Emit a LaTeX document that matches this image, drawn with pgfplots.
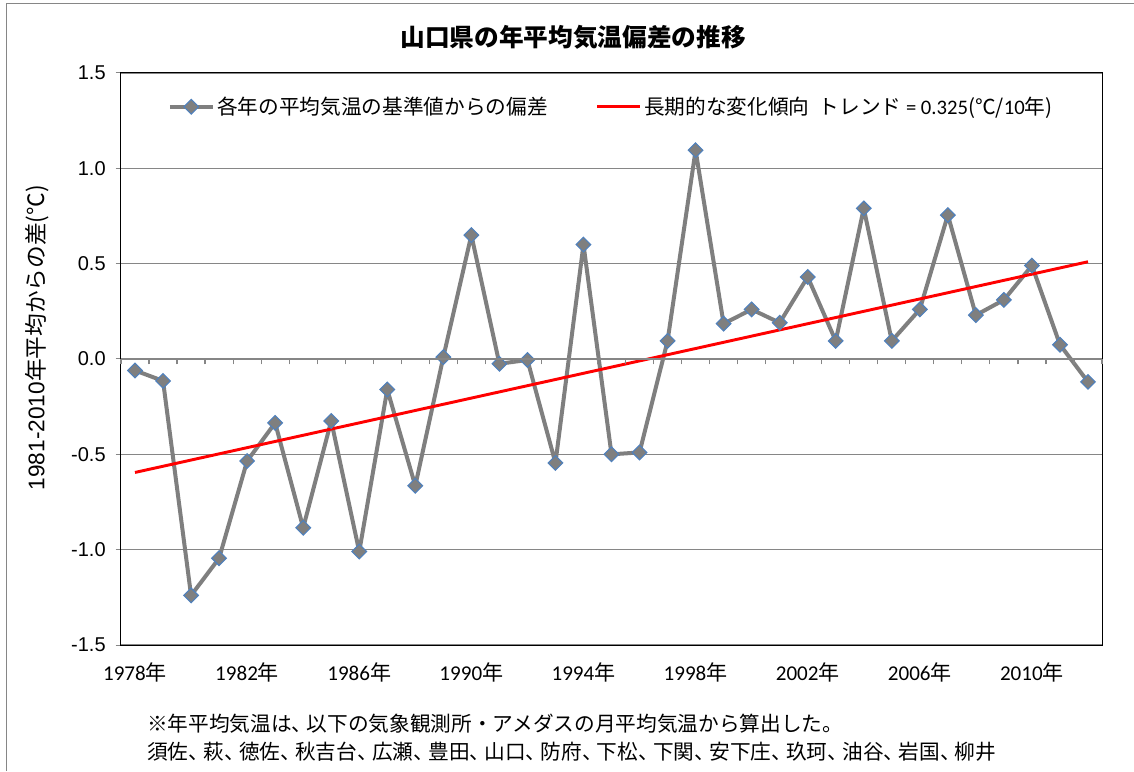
\documentclass[border=0pt]{standalone}
\usepackage{fontspec}
\setmainfont{Liberation Sans}
\newfontfamily\cjk{Noto Sans CJK JP}
\newfontfamily\calib{Carlito}
\usepackage{pgfplots}
\pgfplotsset{compat=1.18}
\definecolor{xlgray}{HTML}{7F7F7F}
\definecolor{xlblue}{HTML}{4F81BD}
\definecolor{xlgrid}{HTML}{868686}
\newcommand{\nen}{{\cjk 年}}
% narrower ideographic comma, as in the reference's proportional font
\newcommand{\tc}{\makebox[0.72em][l]{、}}
\begin{document}
\begin{tikzpicture}
% fixed page: 1134x771 px at 0.75pt per px
\path[use as bounding box] (-90.75pt,-94.5pt) rectangle (759.75pt,483.75pt);
\draw[xlgrid, line width=0.75pt] (-86pt,-94.5pt) -- (-86pt,480.75pt) -- (759.75pt,480.75pt);

\begin{axis}[
    at={(0,0)}, anchor=south west,
    scale only axis,
    width=735.75pt, height=429pt,
    xmin=1977.5, xmax=2012.5,
    ymin=-1.5, ymax=1.5,
    ytick={-1.5,-1,...,1.5},
    yticklabel style={/pgf/number format/fixed, /pgf/number format/fixed zerofill, /pgf/number format/precision=1, font=\fontsize{15}{18}\selectfont, xshift=-4pt},
    /pgf/number format/assume math mode=true,
    xtick={1978,1982,...,2010},
    xticklabels={1978\nen,1982\nen,1986\nen,1990\nen,1994\nen,1998\nen,2002\nen,2006\nen,2010\nen},
    xticklabel style={font=\calib\fontsize{15.8}{18}\selectfont, yshift=-6pt},
    xtick style={draw=none},
    ytick pos=left,
    tick align=outside,
    major tick length=4pt,
    ytick style={xlgrid, line width=0.75pt},
    ymajorgrids,
    grid style={xlgrid, line width=0.9pt},
    axis line style={black, line width=0.75pt},
    ylabel={1981-2010{\cjk 年平均からの差(℃)}},
    ylabel style={at={(axis description cs:-0.0856,0.537)}, anchor=center, font=\fontsize{17}{20}\selectfont},
    legend style={at={(0.5,0.941)}, anchor=center, draw=none, fill=none,
        font=\cjk\fontsize{15.5}{18}\selectfont, cells={anchor=west},
        /tikz/every even column/.append style={column sep=34pt}},
    legend columns=2,
    legend image code/.code={\draw[mark repeat=2,mark phase=2,#1] plot coordinates {(0pt,0pt) (16pt,0pt) (32pt,0pt)};},
]
\addplot[xlgray, line width=3pt, line join=round, mark=square*, mark size=3.9pt,
    mark options={rotate=45, fill=xlgray, draw=xlblue, line width=0.8pt, line join=miter}]
  coordinates {
    (1978,-0.06) (1979,-0.115) (1980,-1.24) (1981,-1.045) (1982,-0.535)
    (1983,-0.335) (1984,-0.885) (1985,-0.325) (1986,-1.01) (1987,-0.16)
    (1988,-0.665) (1989,0.01) (1990,0.65) (1991,-0.025) (1992,-0.005)
    (1993,-0.545) (1994,0.60) (1995,-0.50) (1996,-0.49) (1997,0.095)
    (1998,1.095) (1999,0.185) (2000,0.26) (2001,0.19) (2002,0.43)
    (2003,0.095) (2004,0.79) (2005,0.095) (2006,0.26) (2007,0.755)
    (2008,0.23) (2009,0.31) (2010,0.49) (2011,0.075) (2012,-0.12)
  };
\addlegendentry{各年の平均気温の基準値からの偏差}
\addplot[red, line width=2.2pt] coordinates {(1978,-0.595) (2012,0.51)};
\addlegendentry{長期的な変化傾向\ \ トレンド {\calib = 0.325}(℃/{\calib 10}年)}
\end{axis}

% category axis crossing at zero, with boundary ticks
\begin{axis}[
    at={(0,0)}, anchor=south west,
    scale only axis,
    width=735.75pt, height=429pt,
    xmin=1977.5, xmax=2012.5,
    ymin=-1.5, ymax=1.5,
    axis x line*=middle, axis y line=none,
    xtick={1977.5,1978.5,...,2012.5},
    xticklabels={},
    xtick align=outside,
    major tick length=4pt,
    x axis line style={xlgrid, line width=0.9pt},
    xtick style={xlgrid, line width=0.9pt},
]
\end{axis}

\node[font=\cjk\bfseries\fontsize{18.5}{22}\selectfont] at (339pt,456pt) {山口県の年平均気温偏差の推移};
\node[anchor=west, inner sep=0pt, font=\cjk\fontsize{15.5}{18}\selectfont] at (19.5pt,-59.25pt) {※年平均気温は\tc 以下の気象観測所・アメダスの月平均気温から算出した。};
\node[anchor=west, inner sep=0pt, font=\cjk\fontsize{15.5}{18}\selectfont] at (19.5pt,-80.25pt) {須佐\tc 萩\tc 徳佐\tc 秋吉台\tc 広瀬\tc 豊田\tc 山口\tc 防府\tc 下松\tc 下関\tc 安下庄\tc 玖珂\tc 油谷\tc 岩国\tc 柳井};
\end{tikzpicture}
\end{document}
